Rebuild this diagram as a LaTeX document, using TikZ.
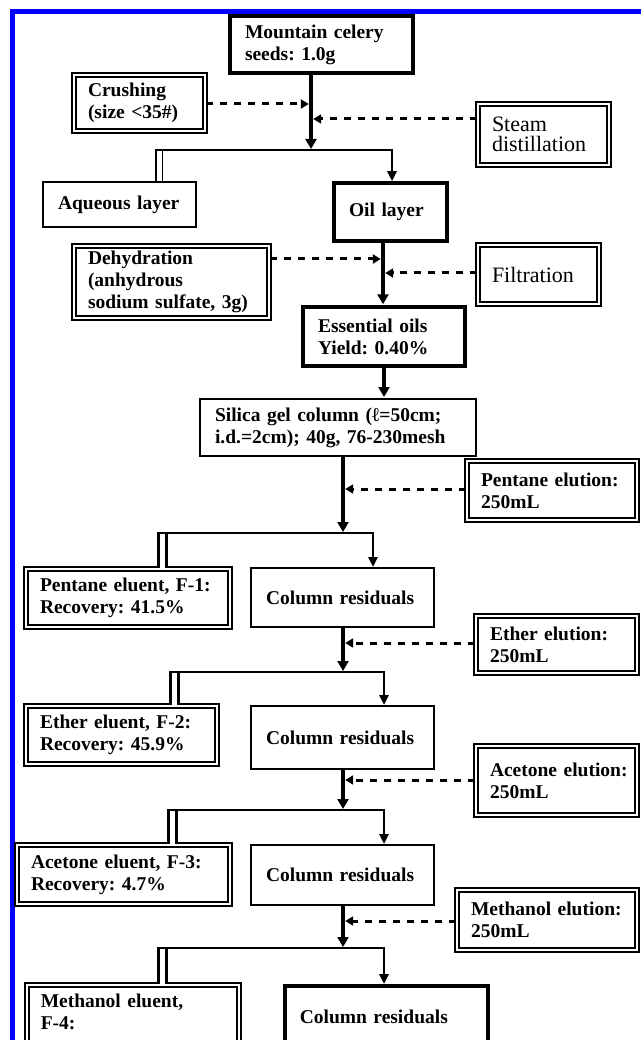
\documentclass[tikz,border=0pt]{standalone}
\usepackage{fontspec}
\setmainfont{Liberation Serif}
\usetikzlibrary{arrows.meta}
\frenchspacing
\hyphenpenalty=10000
\exhyphenpenalty=10000

\begin{document}
\begin{tikzpicture}[x=1pt, y=-1pt,
  box/.style={align=left, inner xsep=15pt, font=\fontsize{19.5}{22}\selectfont\bfseries},
  thickbox/.style={box, draw, line width=3.5pt},
  thinbox/.style={box, draw, line width=2pt},
  dblbox/.style={box, draw, double, double distance=2.5pt, line width=1.5pt, inner xsep=14pt},
  plain/.style={font=\fontsize{22}{20}\selectfont\mdseries},
  flow/.style={line width=4.5pt, -{Triangle[length=10pt,width=11pt]}, shorten >=1pt},
  branch/.style={line width=2.5pt, -{Triangle[length=10pt,width=9pt]}},
  leg/.style={double, double distance=5.5pt, line width=2.5pt},
  dasharrow/.style={line width=3pt, dash pattern=on 7.5pt off 6.5pt, -{Triangle[length=8pt,width=9pt]}, shorten >=2.2pt}
]

\useasboundingbox (0,0) rectangle (640,1040);
\draw [blue, line width=4.7pt] (12.3,1050) -- (12.3,11.5) -- (650,11.5);

% Extraction
\node [thickbox, text width=153pt, minimum height=57pt] (seeds) at (321.5,44.5) {Mountain celery\\seeds: 1.0g};
\node [dblbox, text width=103pt, minimum height=56pt] (crush) at (139.5,103) {Crushing\\(size <35\#)};
\node [dblbox, plain, text width=103pt, minimum height=61pt] (steam) at (543.5,134.5) {Steam\\distillation};
\node [thinbox, text width=123pt, minimum height=45pt] (aqueous) at (119.5,204.5) {Aqueous~layer};
\node [thickbox, text width=83pt, minimum height=58pt] (oil) at (390.5,212) {Oil layer};
\node [dblbox, text width=167pt, minimum height=72pt] (dehyd) at (171.5,282) {Dehydration\\(anhydrous\\sodium~sulfate,~3g)};
\node [dblbox, plain, text width=93pt, minimum height=59pt] (filt) at (538.5,274.5) {Filtration};
\node [thickbox, text width=132pt, minimum height=59pt] (oils) at (384,336.5) {Essential oils\\Yield: 0.40\%};
\node [thinbox, text width=246pt, minimum height=57pt] (silica) at (338,427.5) {Silica gel column (ℓ=50cm;\\i.d.=2cm); 40g, 76-230mesh};

% Elution
\node [dblbox, text width=142pt, minimum height=59pt] (pentel) at (552,490.5) {Pentane~elution:\\250mL};
\node [dblbox, text width=176pt, minimum height=58pt] (f1) at (128,598) {Pentane~eluent,~F-1:\\Recovery: 41.5\%};
\node [thinbox, text width=153pt, minimum height=59pt] (res1) at (342.5,597.5) {Column~residuals};
\node [dblbox, text width=133pt, minimum height=57pt] (ethel) at (556.5,644.5) {Ether~elution:\\250mL};
\node [dblbox, text width=163pt, minimum height=58pt] (f2) at (121.5,735) {Ether~eluent,~F-2:\\Recovery: 45.9\%};
\node [thinbox, text width=153pt, minimum height=63pt] (res2) at (342.5,737.5) {Column~residuals};
\node [dblbox, text width=133pt, minimum height=69pt] (acetel) at (556.5,780.5) {Acetone~elution:\\250mL};
\node [dblbox, text width=185pt, minimum height=59pt] (f3) at (123.5,874.5) {Acetone~eluent,~F-3:\\Recovery: 4.7\%};
\node [thinbox, text width=153pt, minimum height=60pt] (res3) at (342.5,875) {Column~residuals};
\node [dblbox, text width=152pt, minimum height=60pt] (methel) at (547,920) {Methanol~elution:\\250mL};
\node [dblbox, anchor=north west, text width=184pt, text height=14pt, text depth=80pt, inner ysep=9pt] (f4) at (26,984) {Methanol eluent,\\F-4:};
\node [thickbox, anchor=north west, text width=173pt, text height=14pt, text depth=80pt, inner ysep=24pt] (res4) at (283,984) {Column~residuals};

% Junctions
\coordinate (j1) at (311,150);
\coordinate (b1) at (155,150);
\coordinate (g1) at (159,150);
\coordinate (r1) at (392,150);
\coordinate (j2) at (343,533);
\coordinate (b2) at (157,533);
\coordinate (g2) at (162.5,533);
\coordinate (r2) at (373,533);
\coordinate (j3) at (343,672);
\coordinate (b3) at (169,672);
\coordinate (g3) at (174.5,672);
\coordinate (r3) at (384,672);
\coordinate (j4) at (343,810);
\coordinate (b4) at (167,810);
\coordinate (g4) at (172.5,810);
\coordinate (r4) at (384,810);
\coordinate (j5) at (343,948);
\coordinate (b5) at (157,948);
\coordinate (g5) at (162.5,948);
\coordinate (r5) at (384,948);

% Dashed inputs
\coordinate (dc) at (311,104);
\coordinate (ds) at (311,119);
\coordinate (dd) at (383,259);
\coordinate (df) at (383,273);
\coordinate (dp) at (343,489);
\coordinate (de) at (343,643);
\coordinate (da) at (343,780);
\coordinate (dm) at (343,921);

% Main line
\draw [flow] (seeds.south -| j1) -- (j1);
\draw [flow] (oil.south -| dd) -- (oils.north -| dd);
\draw [flow] (oils.south) -- (oils.south |- silica.north);
\draw [flow] (silica.south -| j2) -- (j2);
\draw [flow] (res1.south -| j3) -- (j3);
\draw [flow] (res2.south -| j4) -- (j4);
\draw [flow] (res3.south -| j5) -- (j5);

\draw [dasharrow] (crush.east |- dc) -- (dc);
\draw [dasharrow] (steam.west |- ds) -- (ds);
\draw [dasharrow] (dehyd.east |- dd) -- (dd);
\draw [dasharrow] (filt.west |- df) -- (df);
\draw [dasharrow] (pentel.west |- dp) -- (dp);
\draw [dasharrow] (ethel.west |- de) -- (de);
\draw [dasharrow] (acetel.west |- da) -- (da);
\draw [dasharrow] (methel.west |- dm) -- (dm);

% Branches
\draw [leg, line width=1.5pt, double distance=5pt] (g1) -- (g1 |- aqueous.north);
\draw [branch] (b1) -- (r1) -- (r1 |- oil.north);
\draw [leg] (g2) -- (g2 |- f1.north);
\draw [branch] (b2) -- (r2) -- (r2 |- res1.north);
\draw [leg] (g3) -- (g3 |- f2.north);
\draw [branch] (b3) -- (r3) -- (r3 |- res2.north);
\draw [leg] (g4) -- (g4 |- f3.north);
\draw [branch] (b4) -- (r4) -- (r4 |- res3.north);
\draw [leg] (g5) -- (g5 |- f4.north);
\draw [branch] (b5) -- (r5) -- (r5 |- res4.north);

\end{tikzpicture}
\end{document}
